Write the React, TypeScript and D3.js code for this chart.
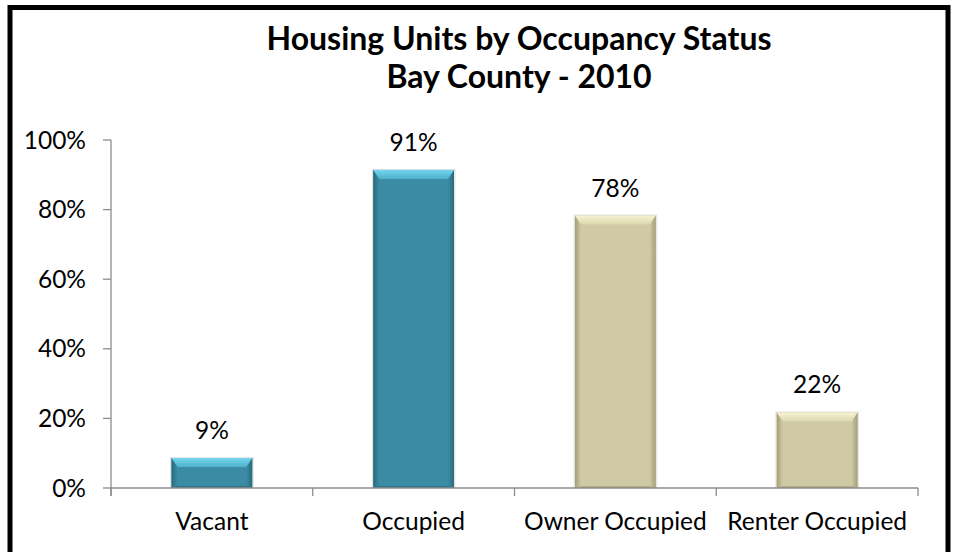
import React from 'react'
import {scaleBand, scaleLinear, format, range} from 'd3'

const categories = ['Vacant', 'Occupied', 'Owner Occupied', 'Renter Occupied']
const shares = [0.086, 0.914, 0.783, 0.217]
const groups = ['total', 'total', 'occupied', 'occupied']
const yTicks = [0, 0.2, 0.4, 0.6, 0.8, 1]
const titleLines = ['Housing Units by Occupancy Status', 'Bay County - 2010']

const palette = {
    total: {base: '#3a8ba3', light: '#74d6ee', lightEnd: '#4fb0c9', side: '#2a6b7e', bottom: '#2f7487'},
    occupied: {base: '#cfcaa3', light: '#f7f3d2', lightEnd: '#dcd7b0', side: '#a39e79', bottom: '#b1ac86'}
}

const W = 953
const H = 552
const font = 'Lato, "Open Sans", sans-serif'
const axisColor = '#8c8c8c'

export default function App() {
    const plot = {left: 111, right: 918, top: 140, bottom: 488}

    const x = scaleBand()
        .domain(categories)
        .range([plot.left, plot.right])
        .paddingInner(0.6)
        .paddingOuter(0.3)

    const y = scaleLinear()
        .domain([0, 1])
        .range([plot.bottom, plot.top])

    const pct = format('.0%')
    const step = x.step()
    const boundaries = range(categories.length + 1).map(i => plot.left + i * step)

    return (
        <svg width={W} height={H} style={{position: 'absolute', left: 0, top: 0, background: '#fff'}}>
            <defs>
                {Object.keys(palette).map(k => (
                    <React.Fragment key={k}>
                        <linearGradient id={'top-' + k} x1="0" y1="0" x2="0" y2="1">
                            <stop offset="0" stopColor={palette[k].light}/>
                            <stop offset="1" stopColor={palette[k].lightEnd}/>
                        </linearGradient>
                        <linearGradient id={'left-' + k} x1="0" y1="0" x2="1" y2="0">
                            <stop offset="0" stopColor={palette[k].side}/>
                            <stop offset="1" stopColor={palette[k].base}/>
                        </linearGradient>
                        <linearGradient id={'right-' + k} x1="0" y1="0" x2="1" y2="0">
                            <stop offset="0" stopColor={palette[k].base}/>
                            <stop offset="1" stopColor={palette[k].side}/>
                        </linearGradient>
                    </React.Fragment>
                ))}
            </defs>

            <rect x={10} y={7.5} width={938} height={560} fill="#fff" stroke="#000" strokeWidth={5}/>

            {titleLines.map((t, i) => (
                <text key={t} x={519} y={50 + i * 38} textAnchor="middle" fontFamily={font}
                      fontWeight="bold" fontSize={32} fill="#000">{t}</text>
            ))}

            {/* y axis */}
            <line x1={plot.left} x2={plot.left} y1={plot.top} y2={plot.bottom + 8} stroke={axisColor} strokeWidth={1.3}/>
            {yTicks.map(t => (
                <g key={t}>
                    <line x1={plot.left - 8} x2={plot.left} y1={y(t)} y2={y(t)} stroke={axisColor} strokeWidth={1.3}/>
                    <text x={86} y={y(t) + 8.5} textAnchor="end" fontFamily={font} fontSize={24.5} fill="#000">{pct(t)}</text>
                </g>
            ))}

            {/* bars */}
            {categories.map((c, i) => {
                const g = groups[i]
                const col = palette[g]
                const x0 = x(c)
                const x1 = x0 + x.bandwidth()
                const y0 = y(shares[i])
                const y1 = plot.bottom
                const bt = 9
                const bs = 6
                return (
                    <g key={c}>
                        <rect x={x0 - 1.5} y={y0 - 1} width={x.bandwidth() + 3} height={y1 - y0 + 1}
                              fill="rgba(0,0,0,0.10)"/>
                        <rect x={x0} y={y0} width={x.bandwidth()} height={y1 - y0} fill={col.base}/>
                        <polygon points={`${x0},${y0} ${x0 + bs},${y0 + bt} ${x0 + bs},${y1 - 2} ${x0},${y1}`} fill={`url(#left-${g})`}/>
                        <polygon points={`${x1},${y0} ${x1 - bs},${y0 + bt} ${x1 - bs},${y1 - 2} ${x1},${y1}`} fill={`url(#right-${g})`}/>
                        <polygon points={`${x0},${y0} ${x1},${y0} ${x1 - bs},${y0 + bt} ${x0 + bs},${y0 + bt}`} fill={`url(#top-${g})`}/>
                        <polygon points={`${x0},${y1} ${x0 + bs},${y1 - 2} ${x1 - bs},${y1 - 2} ${x1},${y1}`} fill={col.bottom}/>
                        <text x={x0 + x.bandwidth() / 2} y={y0 - 19} textAnchor="middle" fontFamily={font}
                              fontSize={24.5} fill="#000">{pct(shares[i])}</text>
                    </g>
                )
            })}

            {/* x axis */}
            <line x1={plot.left} x2={plot.right} y1={plot.bottom} y2={plot.bottom} stroke={axisColor} strokeWidth={1.3}/>
            {boundaries.map(b => (
                <line key={b} x1={b} x2={b} y1={plot.bottom} y2={plot.bottom + 8} stroke={axisColor} strokeWidth={1.3}/>
            ))}
            {categories.map(c => (
                <text key={c} x={x(c) + x.bandwidth() / 2} y={530} textAnchor="middle" fontFamily={font}
                      fontSize={24.5} fill="#000">{c}</text>
            ))}
        </svg>
    )
}
